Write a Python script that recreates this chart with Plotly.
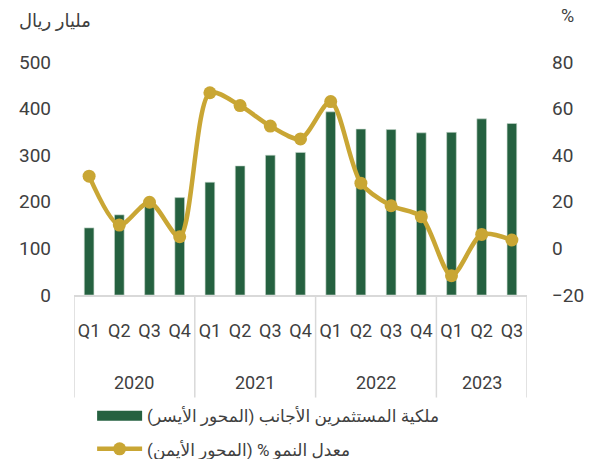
import plotly.graph_objects as go

years = ["2020"]*4 + ["2021"]*4 + ["2022"]*4 + ["2023"]*3
quarters = ["Q1","Q2","Q3","Q4","Q1","Q2","Q3","Q4","Q1","Q2","Q3","Q4","Q1","Q2","Q3"]
ownership = [144, 172, 190, 209, 242, 277, 300, 306, 393, 356, 355, 348, 349, 378, 368]
growth = [31, 10, 19.8, 5, 66.8, 61.3, 52.5, 47, 63, 28, 18.3, 13.6, -11.7, 6, 3.6]

bar_name = "ملكية المستثمرين الأجانب (المحور الأيسر)"
line_name = "معدل النمو % (المحور الأيمن)"

GREEN = "#256140"
GOLD = "#C9A634"
TXT = "#404040"
LINEC = "#d9d9d9"
FONT = "Roboto, DejaVu Sans, sans-serif"
FS = 18

xs = list(range(len(quarters)))

fig = go.Figure()
fig.add_trace(go.Bar(
    x=xs, y=ownership, name=bar_name,
    marker=dict(color=GREEN, line=dict(color="#c8d8cc", width=0.6)),
    yaxis="y", showlegend=False,
))
fig.add_trace(go.Scatter(
    x=[None], y=[None], name=bar_name, mode="lines",
    line=dict(color=GREEN, width=14), legendgroup="a",
))
fig.add_trace(go.Scatter(
    x=xs, y=growth, name=line_name,
    mode="lines+markers",
    line=dict(color=GOLD, width=4.5, shape="spline", smoothing=0.8),
    marker=dict(color=GOLD, size=13),
    yaxis="y2", legendgroup="b",
))

# year group labels and dividers
groups = []
for i, yv in enumerate(years):
    if not groups or groups[-1][0] != yv:
        groups.append([yv, i, i])
    else:
        groups[-1][2] = i

annotations = []
shapes = []
for yv, a, b in groups:
    annotations.append(dict(text=yv, xref="x", yref="paper", x=(a + b) / 2, y=-0.375,
                            xanchor="center", yanchor="middle", showarrow=False,
                            font=dict(size=FS, color=TXT)))
    shapes.append(dict(type="line", xref="x", yref="paper", x0=a - 0.5, x1=a - 0.5,
                       y0=0, y1=-0.44, line=dict(color=LINEC, width=1.5)))
shapes.append(dict(type="line", xref="x", yref="paper", x0=groups[-1][2] + 0.5,
                   x1=groups[-1][2] + 0.5, y0=0, y1=-0.44, line=dict(color=LINEC, width=1.5)))

annotations += [
    dict(text="مليار ريال", xref="paper", yref="paper", x=-0.125, y=1.18,
         xanchor="left", yanchor="middle", showarrow=False,
         font=dict(size=FS, color=TXT)),
    dict(text="%", xref="paper", yref="paper", x=1.07, y=1.2,
         xanchor="left", yanchor="middle", showarrow=False,
         font=dict(size=FS, color=TXT)),
]

fig.update_layout(
    width=592, height=459,
    margin=dict(l=74, r=65, t=62, b=164, autoexpand=False),
    paper_bgcolor="white", plot_bgcolor="white",
    font=dict(family=FONT, size=FS, color=TXT),
    bargap=0.68,
    showlegend=True,
    legend=dict(
        x=0.04, xanchor="left", y=-0.443, yanchor="top",
        orientation="v", font=dict(size=17, color=TXT),
        itemwidth=45, tracegroupgap=8,
    ),
    xaxis=dict(
        range=[-0.5, len(xs) - 0.5], automargin=False,
        tickvals=xs, ticktext=quarters,
        showline=True, linecolor=LINEC, linewidth=1.5,
        tickfont=dict(size=FS, color=TXT), tickangle=0,
        showgrid=False, ticks="", ticklabelstandoff=19, zeroline=False,
    ),
    yaxis=dict(
        range=[0, 500], dtick=100, showgrid=False, zeroline=False,
        automargin=False,
        tickfont=dict(size=19, color=TXT), ticks="", ticklabelstandoff=22,
    ),
    yaxis2=dict(
        range=[-20, 80], dtick=20, overlaying="y", side="right",
        showgrid=False, zeroline=False, automargin=False,
        tickfont=dict(size=19, color=TXT), ticks="", ticklabelstandoff=24,
    ),
    annotations=annotations,
    shapes=shapes,
)

fig.write_html("out.html", config={"displayModeBar": False},
               post_script="document.body.style.margin='0px';")
